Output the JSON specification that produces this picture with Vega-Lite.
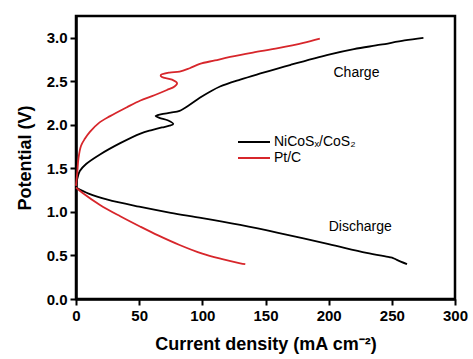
{
  "$schema": "https://vega.github.io/schema/vega-lite/v6.json",
  "width": 379,
  "height": 283,
  "autosize": {"type": "none"},
  "padding": {"left": 76, "top": 16, "right": 18, "bottom": 60},
  "background": "white",
  "config": {
    "view": {"stroke": "black", "strokeWidth": 2.5},
    "font": "Liberation Sans"
  },
  "datasets": {
    "curves": [
      {"series": "NiCoSₓ/CoS₂", "phase": "charge", "o": 1, "x": 0, "y": 1.30},
      {"series": "NiCoSₓ/CoS₂", "phase": "charge", "o": 2, "x": 1, "y": 1.38},
      {"series": "NiCoSₓ/CoS₂", "phase": "charge", "o": 3, "x": 3, "y": 1.47},
      {"series": "NiCoSₓ/CoS₂", "phase": "charge", "o": 4, "x": 8, "y": 1.55},
      {"series": "NiCoSₓ/CoS₂", "phase": "charge", "o": 5, "x": 19, "y": 1.66},
      {"series": "NiCoSₓ/CoS₂", "phase": "charge", "o": 6, "x": 35, "y": 1.79},
      {"series": "NiCoSₓ/CoS₂", "phase": "charge", "o": 7, "x": 51, "y": 1.90},
      {"series": "NiCoSₓ/CoS₂", "phase": "charge", "o": 8, "x": 60, "y": 1.94},
      {"series": "NiCoSₓ/CoS₂", "phase": "charge", "o": 9, "x": 68, "y": 1.97},
      {"series": "NiCoSₓ/CoS₂", "phase": "charge", "o": 10, "x": 74, "y": 1.99},
      {"series": "NiCoSₓ/CoS₂", "phase": "charge", "o": 11, "x": 77, "y": 2.01},
      {"series": "NiCoSₓ/CoS₂", "phase": "charge", "o": 12, "x": 73, "y": 2.05},
      {"series": "NiCoSₓ/CoS₂", "phase": "charge", "o": 13, "x": 66, "y": 2.08},
      {"series": "NiCoSₓ/CoS₂", "phase": "charge", "o": 14, "x": 63, "y": 2.10},
      {"series": "NiCoSₓ/CoS₂", "phase": "charge", "o": 15, "x": 67, "y": 2.12},
      {"series": "NiCoSₓ/CoS₂", "phase": "charge", "o": 16, "x": 75, "y": 2.14},
      {"series": "NiCoSₓ/CoS₂", "phase": "charge", "o": 17, "x": 82, "y": 2.16},
      {"series": "NiCoSₓ/CoS₂", "phase": "charge", "o": 18, "x": 90, "y": 2.23},
      {"series": "NiCoSₓ/CoS₂", "phase": "charge", "o": 19, "x": 98, "y": 2.31},
      {"series": "NiCoSₓ/CoS₂", "phase": "charge", "o": 20, "x": 106, "y": 2.38},
      {"series": "NiCoSₓ/CoS₂", "phase": "charge", "o": 21, "x": 114, "y": 2.44},
      {"series": "NiCoSₓ/CoS₂", "phase": "charge", "o": 22, "x": 130, "y": 2.52},
      {"series": "NiCoSₓ/CoS₂", "phase": "charge", "o": 23, "x": 146, "y": 2.59},
      {"series": "NiCoSₓ/CoS₂", "phase": "charge", "o": 24, "x": 170, "y": 2.69},
      {"series": "NiCoSₓ/CoS₂", "phase": "charge", "o": 25, "x": 201, "y": 2.81},
      {"series": "NiCoSₓ/CoS₂", "phase": "charge", "o": 26, "x": 220, "y": 2.87},
      {"series": "NiCoSₓ/CoS₂", "phase": "charge", "o": 27, "x": 241, "y": 2.92},
      {"series": "NiCoSₓ/CoS₂", "phase": "charge", "o": 28, "x": 260, "y": 2.97},
      {"series": "NiCoSₓ/CoS₂", "phase": "charge", "o": 29, "x": 275, "y": 3.00},
      {"series": "Pt/C", "phase": "charge", "o": 1, "x": 0, "y": 1.30},
      {"series": "Pt/C", "phase": "charge", "o": 2, "x": 1, "y": 1.45},
      {"series": "Pt/C", "phase": "charge", "o": 3, "x": 2, "y": 1.62},
      {"series": "Pt/C", "phase": "charge", "o": 4, "x": 4, "y": 1.76},
      {"series": "Pt/C", "phase": "charge", "o": 5, "x": 7, "y": 1.84},
      {"series": "Pt/C", "phase": "charge", "o": 6, "x": 11, "y": 1.92},
      {"series": "Pt/C", "phase": "charge", "o": 7, "x": 18, "y": 2.02},
      {"series": "Pt/C", "phase": "charge", "o": 8, "x": 27, "y": 2.10},
      {"series": "Pt/C", "phase": "charge", "o": 9, "x": 40, "y": 2.20},
      {"series": "Pt/C", "phase": "charge", "o": 10, "x": 51, "y": 2.28},
      {"series": "Pt/C", "phase": "charge", "o": 11, "x": 62, "y": 2.34},
      {"series": "Pt/C", "phase": "charge", "o": 12, "x": 72, "y": 2.40},
      {"series": "Pt/C", "phase": "charge", "o": 13, "x": 78, "y": 2.44},
      {"series": "Pt/C", "phase": "charge", "o": 14, "x": 80, "y": 2.48},
      {"series": "Pt/C", "phase": "charge", "o": 15, "x": 76, "y": 2.52},
      {"series": "Pt/C", "phase": "charge", "o": 16, "x": 68, "y": 2.55},
      {"series": "Pt/C", "phase": "charge", "o": 17, "x": 67, "y": 2.57},
      {"series": "Pt/C", "phase": "charge", "o": 18, "x": 74, "y": 2.60},
      {"series": "Pt/C", "phase": "charge", "o": 19, "x": 82, "y": 2.61},
      {"series": "Pt/C", "phase": "charge", "o": 20, "x": 90, "y": 2.65},
      {"series": "Pt/C", "phase": "charge", "o": 21, "x": 98, "y": 2.70},
      {"series": "Pt/C", "phase": "charge", "o": 22, "x": 110, "y": 2.74},
      {"series": "Pt/C", "phase": "charge", "o": 23, "x": 122, "y": 2.78},
      {"series": "Pt/C", "phase": "charge", "o": 24, "x": 140, "y": 2.83},
      {"series": "Pt/C", "phase": "charge", "o": 25, "x": 160, "y": 2.88},
      {"series": "Pt/C", "phase": "charge", "o": 26, "x": 180, "y": 2.94},
      {"series": "Pt/C", "phase": "charge", "o": 27, "x": 193, "y": 2.99},
      {"series": "NiCoSₓ/CoS₂", "phase": "discharge", "o": 1, "x": 0, "y": 1.28},
      {"series": "NiCoSₓ/CoS₂", "phase": "discharge", "o": 2, "x": 10, "y": 1.21},
      {"series": "NiCoSₓ/CoS₂", "phase": "discharge", "o": 3, "x": 25, "y": 1.14},
      {"series": "NiCoSₓ/CoS₂", "phase": "discharge", "o": 4, "x": 50, "y": 1.06},
      {"series": "NiCoSₓ/CoS₂", "phase": "discharge", "o": 5, "x": 75, "y": 0.99},
      {"series": "NiCoSₓ/CoS₂", "phase": "discharge", "o": 6, "x": 100, "y": 0.93},
      {"series": "NiCoSₓ/CoS₂", "phase": "discharge", "o": 7, "x": 130, "y": 0.85},
      {"series": "NiCoSₓ/CoS₂", "phase": "discharge", "o": 8, "x": 160, "y": 0.76},
      {"series": "NiCoSₓ/CoS₂", "phase": "discharge", "o": 9, "x": 200, "y": 0.63},
      {"series": "NiCoSₓ/CoS₂", "phase": "discharge", "o": 10, "x": 230, "y": 0.53},
      {"series": "NiCoSₓ/CoS₂", "phase": "discharge", "o": 11, "x": 248, "y": 0.48},
      {"series": "NiCoSₓ/CoS₂", "phase": "discharge", "o": 12, "x": 251, "y": 0.47},
      {"series": "NiCoSₓ/CoS₂", "phase": "discharge", "o": 13, "x": 254, "y": 0.45},
      {"series": "NiCoSₓ/CoS₂", "phase": "discharge", "o": 14, "x": 262, "y": 0.40},
      {"series": "Pt/C", "phase": "discharge", "o": 1, "x": 0, "y": 1.28},
      {"series": "Pt/C", "phase": "discharge", "o": 2, "x": 5, "y": 1.22},
      {"series": "Pt/C", "phase": "discharge", "o": 3, "x": 19, "y": 1.08},
      {"series": "Pt/C", "phase": "discharge", "o": 4, "x": 35, "y": 0.95},
      {"series": "Pt/C", "phase": "discharge", "o": 5, "x": 51, "y": 0.83},
      {"series": "Pt/C", "phase": "discharge", "o": 6, "x": 65, "y": 0.73},
      {"series": "Pt/C", "phase": "discharge", "o": 7, "x": 82, "y": 0.62},
      {"series": "Pt/C", "phase": "discharge", "o": 8, "x": 100, "y": 0.52},
      {"series": "Pt/C", "phase": "discharge", "o": 9, "x": 115, "y": 0.46},
      {"series": "Pt/C", "phase": "discharge", "o": 10, "x": 130, "y": 0.41},
      {"series": "Pt/C", "phase": "discharge", "o": 11, "x": 134, "y": 0.40}
    ],
    "labels": [
      {"label": "Charge", "x": 222, "y": 2.6},
      {"label": "Discharge", "x": 225, "y": 0.83}
    ]
  },
  "layer": [
    {
      "data": {"name": "curves"},
      "mark": {"type": "line", "strokeWidth": 1.8, "interpolate": "catmull-rom"},
      "encoding": {
        "x": {
          "field": "x", "type": "quantitative",
          "scale": {"domain": [0, 300], "nice": false},
          "axis": {
            "title": "Current density (mA cm⁻²)",
            "values": [0, 25, 50, 75, 100, 125, 150, 175, 200, 225, 250, 275, 300],
            "labelExpr": "datum.value % 50 === 0 ? datum.label : ''",
            "tickSize": {"condition": {"test": "datum.value % 50 !== 0", "value": 4}, "value": 6},
            "domainColor": "black", "domainWidth": 2.5,
            "tickColor": "black", "tickWidth": 2,
            "labelFont": "Liberation Sans", "labelFontSize": 15, "labelFontWeight": "bold", "labelColor": "black",
            "labelPadding": 3, "labelFlush": false, "labelOverlap": false,
            "titleFont": "Liberation Sans", "titleFontSize": 18, "titleFontWeight": "bold", "titleColor": "black",
            "titlePadding": 12,
            "grid": false
          }
        },
        "y": {
          "field": "y", "type": "quantitative",
          "scale": {"domain": [0, 3.25], "nice": false},
          "axis": {
            "title": "Potential (V)",
            "values": [0, 0.25, 0.5, 0.75, 1, 1.25, 1.5, 1.75, 2, 2.25, 2.5, 2.75, 3],
            "format": ".1f",
            "labelExpr": "round(datum.value * 100) % 50 === 0 ? datum.label : ''",
            "tickSize": {"condition": {"test": "round(datum.value * 100) % 50 !== 0", "value": 4}, "value": 6},
            "domainColor": "black", "domainWidth": 2.5,
            "tickColor": "black", "tickWidth": 2,
            "labelFont": "Liberation Sans", "labelFontSize": 15, "labelFontWeight": "bold", "labelColor": "black",
            "labelPadding": 3, "labelFlush": false, "labelOverlap": false,
            "titleFont": "Liberation Sans", "titleFontSize": 18, "titleFontWeight": "bold", "titleColor": "black",
            "titlePadding": 12,
            "grid": false
          }
        },
        "color": {
          "field": "series", "type": "nominal",
          "scale": {"domain": ["NiCoSₓ/CoS₂", "Pt/C"], "range": ["black", "#d7262b"]},
          "legend": {
            "title": null,
            "orient": "none",
            "legendX": 161,
            "legendY": 117,
            "symbolType": "M-1,0H3",
            "symbolSize": 256,
            "symbolStrokeWidth": 2,
            "labelFont": "Liberation Sans",
            "labelFontSize": 14,
            "labelColor": "black",
            "rowPadding": 0,
            "labelOffset": 19
          }
        },
        "detail": {"field": "phase", "type": "nominal"},
        "order": {"field": "o", "type": "quantitative"}
      }
    },
    {
      "data": {"name": "labels"},
      "mark": {"type": "text", "font": "Liberation Sans", "fontSize": 14, "color": "black", "align": "center", "baseline": "middle"},
      "encoding": {
        "x": {"field": "x", "type": "quantitative"},
        "y": {"field": "y", "type": "quantitative"},
        "text": {"field": "label"}
      }
    }
  ]
}
